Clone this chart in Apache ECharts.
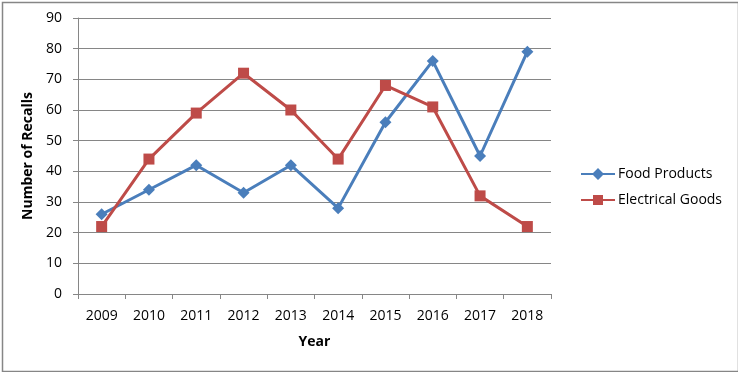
<!DOCTYPE html>
<html><head><meta charset="utf-8">
<script src="https://cdn.jsdelivr.net/npm/echarts@6/dist/echarts.min.js"></script>
<style>html,body{margin:0;padding:0;background:#fff}#c{width:738px;height:372px}</style>
</head><body><div id="c"></div>
<script>
const years = ['2009','2010','2011','2012','2013','2014','2015','2016','2017','2018'];
const foodProducts = [26, 34, 42, 33, 42, 28, 56, 76, 45, 79];
const electricalGoods = [22, 44, 59, 72, 60, 44, 68, 61, 32, 22];
const yTicks = {min: 0, max: 90, interval: 10};

const FONT = "'Open Sans', 'Noto Sans', sans-serif";
const chart = echarts.init(document.getElementById('c'), null, {renderer: 'canvas'});
chart.setOption({
  animation: false,
  backgroundColor: '#fff',
  textStyle: {fontFamily: FONT},
  graphic: [{
    type: 'rect', left: 0, top: 0, silent: true,
    shape: {x: 0, y: 0, width: 736, height: 369},
    style: {fill: 'none', stroke: '#868686', lineWidth: 1.5}
  }],
  grid: {left: 78, right: 187, top: 18, bottom: 78, containLabel: false},
  legend: {
    orient: 'vertical', left: 576, top: 162, itemGap: 12,
    itemWidth: 34, itemHeight: 14,
    textStyle: {fontFamily: FONT, fontSize: 14, color: '#000', padding: [0, 0, 0, -2]},
    data: [
      {name: 'Food Products', icon: 'path://M0,6 L12,6 L17,1 L22,6 L34,6 L34,8 L22,8 L17,13 L12,8 L0,8 Z', itemStyle: {color: '#4a7ebb'}},
      {name: 'Electrical Goods', icon: 'path://M0,6 L12,6 L12,2 L22,2 L22,6 L34,6 L34,8 L22,8 L22,12 L12,12 L12,8 L0,8 Z', itemStyle: {color: '#be4b48'}}
    ]
  },
  xAxis: {
    type: 'category', data: years, boundaryGap: true,
    name: 'Year', nameLocation: 'middle', nameGap: 41,
    nameTextStyle: {fontFamily: FONT, fontSize: 14, fontWeight: 'bold', color: '#000'},
    axisLine: {lineStyle: {color: '#868686', width: 1}},
    axisTick: {show: true, length: 5, lineStyle: {color: '#868686'}},
    axisLabel: {color: '#000', fontSize: 14, margin: 15, fontFamily: FONT}
  },
  yAxis: {
    type: 'value', min: yTicks.min, max: yTicks.max, interval: yTicks.interval,
    name: 'Number of Recalls', nameLocation: 'middle', nameGap: 35, nameRotate: 90,
    nameTextStyle: {fontFamily: FONT, fontSize: 14, fontWeight: 'bold', color: '#000'},
    axisLine: {show: true, lineStyle: {color: '#868686', width: 1}},
    axisTick: {show: true, length: 5, lineStyle: {color: '#868686'}},
    axisLabel: {color: '#000', fontSize: 14, margin: 16, fontFamily: FONT},
    splitLine: {show: true, lineStyle: {color: '#868686', width: 1}}
  },
  series: [
    {
      name: 'Food Products', type: 'line', data: foodProducts,
      symbol: 'diamond', symbolSize: 12,
      lineStyle: {color: '#4a7ebb', width: 3},
      itemStyle: {color: '#4a7ebb'}
    },
    {
      name: 'Electrical Goods', type: 'line', data: electricalGoods,
      symbol: 'rect', symbolSize: 11,
      lineStyle: {color: '#be4b48', width: 3},
      itemStyle: {color: '#be4b48'}
    }
  ]
});
</script></body></html>
